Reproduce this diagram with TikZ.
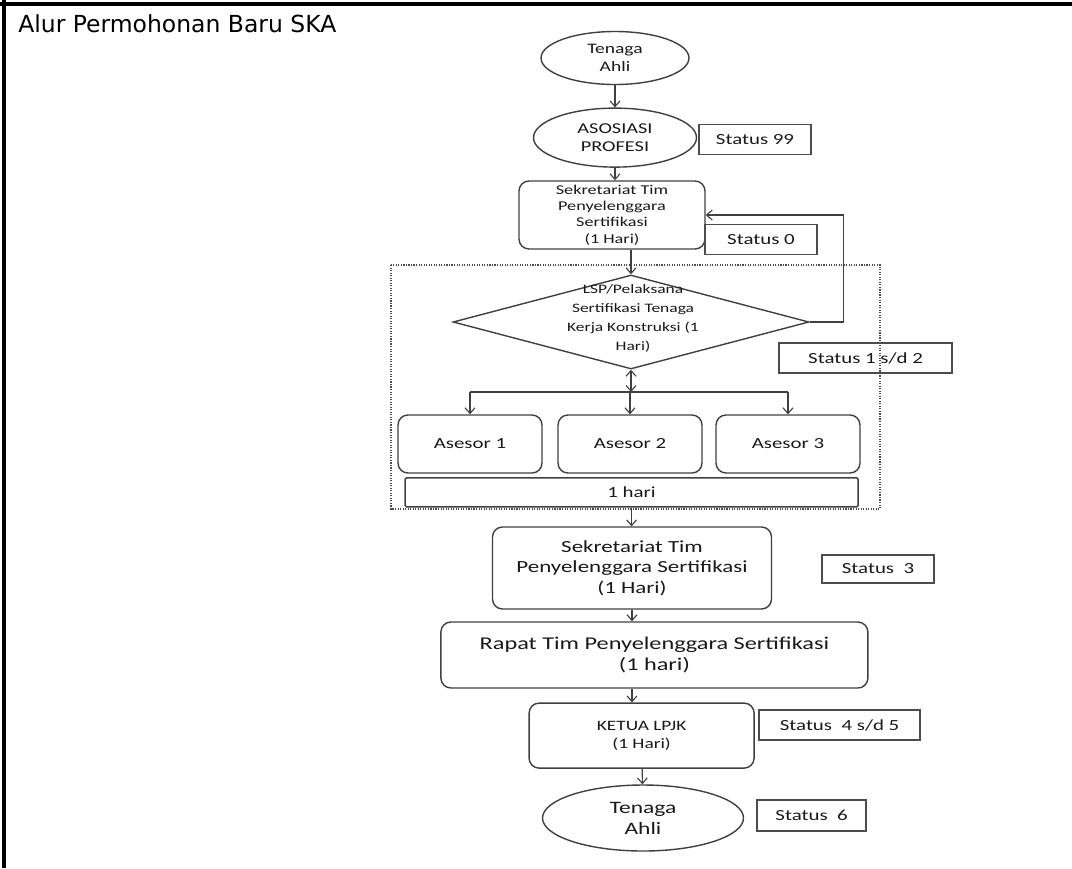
\documentclass[tikz,border=0pt]{standalone}
\usepackage{fontspec}
\setmainfont{Carlito}[FakeStretch=1.35]
\newfontfamily\titlefont{DejaVu Sans}
\usepackage{tikz}
\usetikzlibrary{arrows.meta,shapes.geometric,positioning}
\tikzset{>={Straight Barb[length=4pt,width=7pt]}}
\tikzset{
    flowbox/.style={draw=black!75, line width=1pt, rounded corners=0.25cm, inner sep=0pt, align=center, text=black!90},
    flowoval/.style={draw=black!75, line width=1pt, ellipse, inner sep=0pt, align=center, text=black!90},
    statusbox/.style={draw=black!70, line width=1.2pt, inner sep=0pt, text=black!90, font=\fontsize{11pt}{13pt}\selectfont, minimum height=0.75cm},
    flowarrow/.style={->, draw=black!75, line width=0.8pt}
}

\begin{document}
\begin{tikzpicture}
            \useasboundingbox (0,0) rectangle (26.8,-21.7);
            \draw[line width=2.2pt] (0,-0.1) -- (26.8,-0.1);
            \draw[line width=2.2pt] (0.1,0) -- (0.1,-21.7);
            \node[anchor=base west, inner sep=0pt, font=\titlefont\fontsize{16.7pt}{20pt}\selectfont] (title) at (0.45,-0.82) {Alur Permohonan Baru SKA};

            \draw[densely dotted, line width=0.8pt, black!70] (9.775,-6.625) rectangle (22.0,-12.725);

            \node[flowoval, minimum width=3.7cm, minimum height=1.325cm, font=\fontsize{10.3pt}{13pt}\selectfont] (ta1) at (15.375,-1.45) {Tenaga\\Ahli};
            \node[flowoval, minimum width=4.075cm, minimum height=1.475cm, font=\fontsize{10.7pt}{13pt}\selectfont] (aso) at (15.375,-3.44) {ASOSIASI\\PROFESI};
            \node[statusbox, minimum width=2.8cm] (st99) at (18.875,-3.49) {Status 99};
            \node[flowbox, minimum width=4.65cm, minimum height=1.7cm, font=\fontsize{9.6pt}{11.5pt}\selectfont] (sek1) at (15.3,-5.375) {Sekretariat Tim\\Penyelenggara\\Sertifikasi\\(1 Hari)};
            \node[statusbox, minimum width=2.8cm] (st0) at (19.025,-5.99) {Status 0};

            \node[diamond, draw=black!75, line width=1pt, minimum width=8.9cm, minimum height=2.35cm, inner sep=0pt] (lsp) at (15.775,-8.05) {};
            \node[align=center, inner sep=0pt, text=black!90, font=\fontsize{9.2pt}{13.5pt}\selectfont] (lsptxt) at (15.825,-7.95) {LSP/Pelaksana\\Sertifikasi Tenaga\\Kerja Konstruksi (1\\Hari)};
            \node[statusbox, minimum width=4.325cm] (st12) at (21.64,-8.95) {Status 1 s/d 2};

            \node[flowbox, minimum width=3.6cm, minimum height=1.45cm, font=\fontsize{11pt}{13pt}\selectfont] (as1) at (11.75,-11.1) {Asesor 1};
            \node[flowbox, minimum width=3.6cm, minimum height=1.45cm, font=\fontsize{11pt}{13pt}\selectfont] (as2) at (15.75,-11.1) {Asesor 2};
            \node[flowbox, minimum width=3.6cm, minimum height=1.45cm, font=\fontsize{11pt}{13pt}\selectfont] (as3) at (19.7,-11.1) {Asesor 3};
            \node[flowbox, rounded corners=1pt, minimum width=11.325cm, minimum height=0.725cm, font=\fontsize{11pt}{13pt}\selectfont] (hari) at (15.79,-12.31) {1 hari};

            \node[flowbox, minimum width=6.975cm, minimum height=2.05cm, font=\fontsize{12.1pt}{14.5pt}\selectfont] (sek2) at (15.8,-14.2) {Sekretariat Tim\\Penyelenggara Sertifikasi\\(1 Hari)};
            \node[statusbox, minimum width=2.8cm, minimum height=0.7cm] (st3) at (21.95,-14.225) {Status~ 3};
            \node[flowbox, minimum width=10.675cm, minimum height=1.65cm, font=\fontsize{12.8pt}{15pt}\selectfont] (rapat) at (16.36,-16.375) {Rapat Tim Penyelenggara Sertifikasi\\(1 hari)};
            \node[flowbox, minimum width=5.625cm, minimum height=1.625cm, font=\fontsize{10.2pt}{12.5pt}\selectfont] (ketua) at (16.04,-18.39) {KETUA LPJK\\(1 Hari)};
            \node[statusbox, minimum width=4.025cm] (st45) at (20.99,-18.125) {Status~ 4 s/d 5};
            \node[flowoval, minimum width=5.025cm, minimum height=1.65cm, font=\fontsize{12.4pt}{15pt}\selectfont] (ta2) at (16.075,-20.45) {Tenaga\\Ahli};
            \node[statusbox, minimum width=2.725cm, minimum height=0.775cm] (st6) at (20.29,-20.39) {Status~ 6};

            \draw[flowarrow] (ta1) -- (aso);
            \draw[flowarrow] (aso) -- (aso |- sek1.north);
            \draw[flowarrow] (lsp.north |- sek1.south) -- (lsp.north);
            \draw[flowarrow] (lsp.east) -- ++(0.85,0) |- (sek1.east);
            \coordinate (br) at (15.775,-9.8);
            \draw[flowarrow, <->] (lsp.south) -- (br);
            \draw[draw=black!75, line width=0.8pt] (as1.north |- br) -- (as3.north |- br);
            \foreach \n in {as1,as2,as3}
            {
            \draw[flowarrow] (\n.north |- br) -- (\n.north);
            }
            \draw[flowarrow] (hari) -- (hari |- sek2.north);
            \draw[flowarrow] (sek2) -- (sek2 |- rapat.north);
            \draw[flowarrow] (sek2 |- rapat.south) -- (sek2 |- ketua.north);
            \draw[flowarrow] (ketua) -- (ta2);
\end{tikzpicture}
\end{document}
